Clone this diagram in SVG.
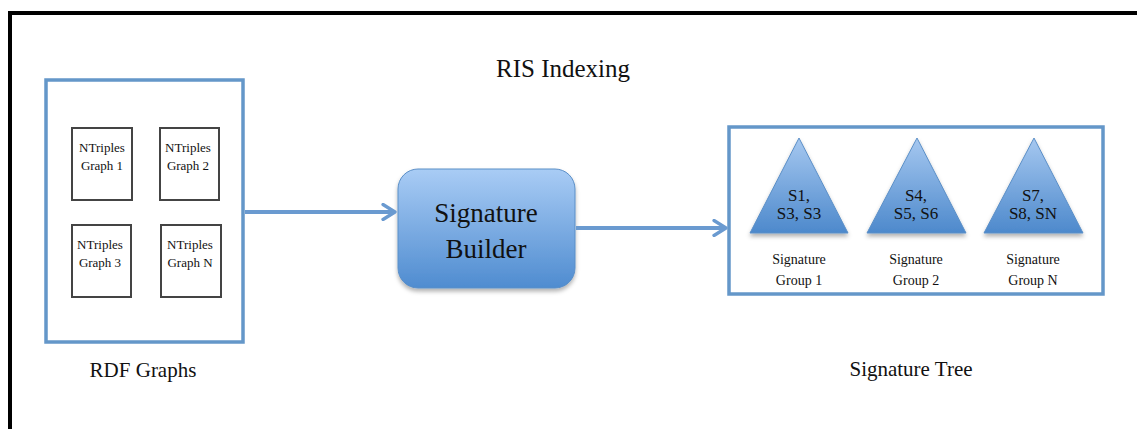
<svg xmlns="http://www.w3.org/2000/svg" width="1137" height="429" viewBox="0 0 1137 429">
<defs>
<linearGradient id="gb" x1="0" y1="0" x2="0" y2="1">
<stop offset="0" stop-color="#a9ccf5"/>
<stop offset="1" stop-color="#4f8cd0"/>
</linearGradient>
<linearGradient id="gt" x1="0" y1="0" x2="0" y2="1">
<stop offset="0" stop-color="#a6c8f0"/>
<stop offset="1" stop-color="#4d89cc"/>
</linearGradient>
<filter id="sh" x="-20%" y="-20%" width="140%" height="150%">
<feDropShadow dx="0" dy="3" stdDeviation="2" flood-color="#000" flood-opacity="0.3"/>
</filter>
<marker id="arr" viewBox="0 0 12 12" refX="10" refY="6" markerWidth="4.5" markerHeight="4.5" orient="auto" markerUnits="strokeWidth">
<path d="M2,1 L10,6 L2,11" fill="none" stroke="#6a9ad0" stroke-width="2.2" stroke-linecap="round" stroke-linejoin="round"/>
</marker>
</defs>
<style>
.frame{fill:none;stroke:#000;stroke-width:4}
.blue{fill:#fff;stroke:#6497c9;stroke-width:3.5}
.small{fill:#fff;stroke:#444;stroke-width:2}
.conn{fill:none;stroke:#6a9ad0;stroke-width:4}
.t{font-family:"Liberation Serif","DejaVu Serif",serif;fill:#111;text-anchor:middle}
.s13{font-size:13px}
.s14{font-size:14px}
.s17{font-size:17px}
.s20{font-size:21px}
.s22{font-size:25px}
.s26{font-size:27px}
.tri{fill:url(#gt);stroke:#5b8fc7;stroke-width:1;filter:url(#sh)}
</style>
<rect width="1137" height="429" fill="#fff"/>
<path class="frame" d="M10,431 L10,13 L1140,13"/>
<text class="t s22" x="563" y="77">RIS Indexing</text>

<g id="rdf-graphs">
<rect class="blue" x="46" y="80" width="197" height="262"/>
<text class="t s20" x="143" y="377">RDF Graphs</text>
</g>
<g id="graph1">
<rect class="small" x="72" y="128" width="60" height="72"/>
<text class="t s13" x="102" y="152">NTriples</text>
<text class="t s13" x="102" y="170">Graph 1</text>
</g>
<g id="graph2">
<rect class="small" x="160" y="128" width="59" height="72"/>
<text class="t s13" x="188" y="152">NTriples</text>
<text class="t s13" x="188" y="170">Graph 2</text>
</g>
<g id="graph3">
<rect class="small" x="72" y="225" width="59" height="72"/>
<text class="t s13" x="100" y="249">NTriples</text>
<text class="t s13" x="100" y="267">Graph 3</text>
</g>
<g id="graphN">
<rect class="small" x="161" y="225" width="60" height="72"/>
<text class="t s13" x="190" y="249">NTriples</text>
<text class="t s13" x="190" y="267">Graph N</text>
</g>

<g id="signature-builder">
<rect x="398" y="169" width="177" height="119" rx="20" fill="url(#gb)" stroke="#5b8fc7" stroke-width="1" filter="url(#sh)"/>
<text class="t s26" x="486" y="222">Signature</text>
<text class="t s26" x="486" y="258">Builder</text>
</g>

<g id="signature-tree">
<rect class="blue" x="729" y="127" width="374" height="167"/>
<text class="t s20" x="911" y="376">Signature Tree</text>
</g>
<g id="group1">
<polygon class="tri" points="799,138 848,233 750,233"/>
<text class="t s17" x="799" y="201">S1,</text>
<text class="t s17" x="799" y="219">S3, S3</text>
<text class="t s14" x="799" y="264">Signature</text>
<text class="t s14" x="799" y="285">Group 1</text>
</g>
<g id="group2">
<polygon class="tri" points="917,138 966,233 867,233"/>
<text class="t s17" x="916" y="201">S4,</text>
<text class="t s17" x="916" y="219">S5, S6</text>
<text class="t s14" x="916" y="264">Signature</text>
<text class="t s14" x="916" y="285">Group 2</text>
</g>
<g id="groupN">
<polygon class="tri" points="1034,138 1083,233 984,233"/>
<text class="t s17" x="1033" y="201">S7,</text>
<text class="t s17" x="1033" y="219">S8, SN</text>
<text class="t s14" x="1033" y="264">Signature</text>
<text class="t s14" x="1033" y="285">Group N</text>
</g>

<g id="connectors">
<line class="conn" x1="245" y1="212" x2="395" y2="212" marker-end="url(#arr)"/>
<line class="conn" x1="576" y1="228" x2="726" y2="228" marker-end="url(#arr)"/>
</g>
</svg>
